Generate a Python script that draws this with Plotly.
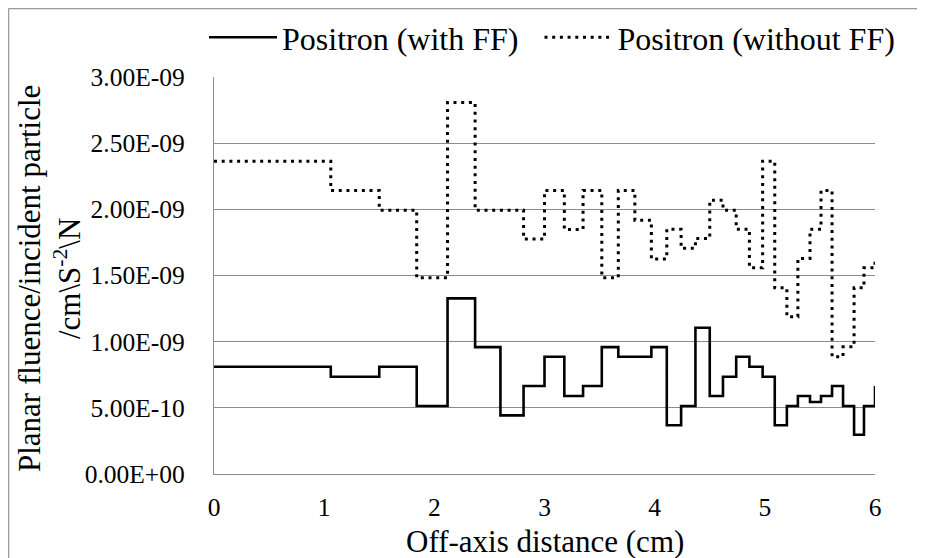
import plotly.graph_objects as go

# Bin edges (cm); last point repeats the right edge
x_edges = [0.00, 1.06, 1.50, 1.84, 2.12, 2.37, 2.60, 2.81, 3.00, 3.18, 3.35,
           3.52, 3.67, 3.82, 3.97, 4.11, 4.24, 4.37, 4.50, 4.62, 4.74, 4.86,
           4.98, 5.09, 5.20, 5.30, 5.41, 5.51, 5.61, 5.71, 5.81, 5.90, 6.00]

# Planar fluence per incident particle (units of 1e-9)
with_ff = [0.810, 0.735, 0.810, 0.514, 1.327, 0.959, 0.443, 0.665, 0.886,
           0.589, 0.665, 0.959, 0.886, 0.886, 0.959, 0.368, 0.514, 1.105,
           0.589, 0.735, 0.886, 0.810, 0.735, 0.368, 0.514, 0.589, 0.544,
           0.589, 0.665, 0.514, 0.297, 0.514, 0.665]

without_ff = [2.364, 2.143, 1.994, 1.483, 2.807, 1.994, 1.994, 1.775, 2.143,
              1.848, 2.143, 1.483, 2.143, 1.918, 1.624, 1.850, 1.705, 1.780,
              2.069, 1.994, 1.850, 1.558, 2.364, 1.407, 1.188, 1.629, 1.850,
              2.143, 0.886, 0.961, 1.407, 1.558, 1.629]

y_tickvals = [0.0, 0.5e-9, 1.0e-9, 1.5e-9, 2.0e-9, 2.5e-9, 3.0e-9]
y_ticktext = ["0.00E+00", "5.00E-10", "1.00E-09", "1.50E-09",
              "2.00E-09", "2.50E-09", "3.00E-09"]
x_tickvals = [0, 1, 2, 3, 4, 5, 6]

series_names = ["Positron (with FF)", "Positron (without FF)"]

SCALE = 1e-9
FONT = "'Times New Roman', 'Liberation Serif', 'DejaVu Serif', serif"
GRID = "#8c8c8c"
NBSP = "\u00a0"

# page is offset by the browser's default 8px body margin
OFF = 8
W, H = 925 - OFF, 558 - OFF
ML, MR, MT, MB = 214 - OFF, 50, 77 - OFF, 84
PW, PH = W - ML - MR, H - MT - MB

def px_x(p):
    return (p - OFF - ML) / PW

def px_y(p):
    return (H - MB - (p - OFF)) / PH

fig = go.Figure()
fig.add_trace(go.Scatter(
    x=x_edges, y=[v * SCALE for v in with_ff], name=series_names[0] + NBSP * 2,
    mode="lines", line=dict(color="black", width=2.6, shape="hv"),
))
fig.add_trace(go.Scatter(
    x=x_edges, y=[v * SCALE for v in without_ff], name=series_names[1],
    mode="lines", line=dict(color="black", width=3, shape="hv", dash="3px,4.7px"),
))

fig.update_layout(
    width=W, height=H,
    margin=dict(l=ML, r=MR, t=MT, b=MB, autoexpand=False),
    paper_bgcolor="white", plot_bgcolor="white",
    font=dict(family=FONT, color="black", size=24),
    showlegend=True,
    legend=dict(orientation="h", x=px_x(204), y=px_y(10), xanchor="left", yanchor="top",
                font=dict(family=FONT, size=32, color="black"),
                itemwidth=68, tracegroupgap=0,
                bgcolor="rgba(0,0,0,0)"),
    xaxis=dict(range=[0, 6], tickvals=x_tickvals, showgrid=False, zeroline=False,
               automargin=False,
               showline=True, linecolor=GRID, linewidth=1.3,
               ticks="outside", ticklen=10, tickcolor="rgba(0,0,0,0)",
               tickfont=dict(family=FONT, size=25.5, color="black")),
    yaxis=dict(range=[0, 3.0e-9], tickvals=y_tickvals, ticktext=y_ticktext,
               automargin=False,
               showgrid=True, gridcolor=GRID, gridwidth=1.3, zeroline=False,
               showline=True, linecolor=GRID, linewidth=1.3,
               ticks="outside", ticklen=23, tickcolor="rgba(0,0,0,0)",
               tickfont=dict(family=FONT, size=25.5, color="black")),
    annotations=[
        dict(text="Off-axis distance (cm)", xref="paper", yref="paper",
             x=0.5, y=px_y(541), xanchor="center", yanchor="middle",
             showarrow=False, font=dict(family=FONT, size=31, color="black")),
        dict(text="Planar fluence/incident particle<br>/cm\\S<sup>-2</sup>\\N",
             xref="paper", yref="paper", x=px_x(49), y=px_y(279),
             xanchor="center", yanchor="middle", textangle=-90, showarrow=False,
             font=dict(family=FONT, size=31, color="black")),
    ],
    shapes=[
        dict(type="line", xref="paper", yref="paper", x0=px_x(8.6), x1=px_x(8.6),
             y0=px_y(8.6), y1=px_y(H + 20), line=dict(color="#9a9a9a", width=1.3)),
        dict(type="line", xref="paper", yref="paper", x0=px_x(8.6), x1=px_x(W + 20),
             y0=px_y(8.6), y1=px_y(8.6), line=dict(color="#9a9a9a", width=1.3)),
    ],
)

fig.write_html("out.html")
